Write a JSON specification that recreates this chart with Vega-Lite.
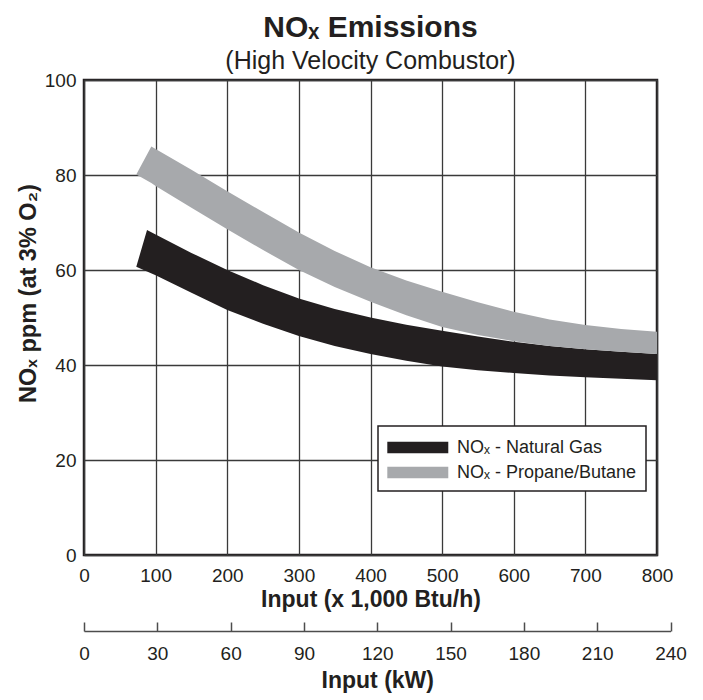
{
  "$schema": "https://vega.github.io/schema/vega-lite/v6.json",
  "width": 573,
  "height": 475,
  "autosize": {"type": "none"},
  "padding": {"left": 84, "top": 80, "right": 46, "bottom": 145},
  "background": "white",
  "title": {
    "text": "NOₓ Emissions",
    "subtitle": "(High Velocity Combustor)",
    "anchor": "middle",
    "fontSize": 30,
    "fontWeight": "bold",
    "font": "Liberation Sans",
    "subtitleFont": "Liberation Sans",
    "subtitleFontSize": 25,
    "color": "#231f20",
    "subtitleColor": "#231f20",
    "offset": -3,
    "subtitlePadding": 6
  },
  "datasets": {
    "bands": [
      {"fuel": "Natural Gas", "input": 73, "low": 60.7, "high": 60.7},
      {"fuel": "Natural Gas", "input": 88, "low": 59.7, "high": 68.4},
      {"fuel": "Natural Gas", "input": 100, "low": 58.9, "high": 67.5},
      {"fuel": "Natural Gas", "input": 150, "low": 55.2, "high": 63.6},
      {"fuel": "Natural Gas", "input": 200, "low": 51.6, "high": 60.0},
      {"fuel": "Natural Gas", "input": 250, "low": 48.7, "high": 56.8},
      {"fuel": "Natural Gas", "input": 300, "low": 46.1, "high": 54.0},
      {"fuel": "Natural Gas", "input": 350, "low": 44.0, "high": 51.8},
      {"fuel": "Natural Gas", "input": 400, "low": 42.3, "high": 50.0},
      {"fuel": "Natural Gas", "input": 450, "low": 40.9, "high": 48.5},
      {"fuel": "Natural Gas", "input": 500, "low": 39.7, "high": 47.2},
      {"fuel": "Natural Gas", "input": 550, "low": 38.9, "high": 46.0},
      {"fuel": "Natural Gas", "input": 600, "low": 38.3, "high": 44.9},
      {"fuel": "Natural Gas", "input": 650, "low": 37.8, "high": 44.0},
      {"fuel": "Natural Gas", "input": 700, "low": 37.4, "high": 43.3},
      {"fuel": "Natural Gas", "input": 750, "low": 37.1, "high": 42.8},
      {"fuel": "Natural Gas", "input": 800, "low": 36.8, "high": 42.3},
      {"fuel": "Propane/Butane", "input": 73, "low": 80.1, "high": 80.1},
      {"fuel": "Propane/Butane", "input": 94, "low": 78.3, "high": 86.0},
      {"fuel": "Propane/Butane", "input": 100, "low": 77.7, "high": 85.5},
      {"fuel": "Propane/Butane", "input": 150, "low": 73.1, "high": 81.1},
      {"fuel": "Propane/Butane", "input": 200, "low": 68.6, "high": 76.6},
      {"fuel": "Propane/Butane", "input": 250, "low": 64.2, "high": 72.2},
      {"fuel": "Propane/Butane", "input": 300, "low": 60.0, "high": 67.9},
      {"fuel": "Propane/Butane", "input": 350, "low": 56.4, "high": 64.0},
      {"fuel": "Propane/Butane", "input": 400, "low": 53.3, "high": 60.6},
      {"fuel": "Propane/Butane", "input": 450, "low": 50.5, "high": 57.8},
      {"fuel": "Propane/Butane", "input": 500, "low": 48.0, "high": 55.4},
      {"fuel": "Propane/Butane", "input": 550, "low": 46.3, "high": 53.2},
      {"fuel": "Propane/Butane", "input": 600, "low": 45.0, "high": 51.2},
      {"fuel": "Propane/Butane", "input": 650, "low": 44.0, "high": 49.6},
      {"fuel": "Propane/Butane", "input": 700, "low": 43.3, "high": 48.4},
      {"fuel": "Propane/Butane", "input": 750, "low": 42.8, "high": 47.6},
      {"fuel": "Propane/Butane", "input": 800, "low": 42.3, "high": 47.0}
    ],
    "kw": [
      {"kw": 0}, {"kw": 30}, {"kw": 60}, {"kw": 90}, {"kw": 120},
      {"kw": 150}, {"kw": 180}, {"kw": 210}, {"kw": 240}
    ]
  },
  "layer": [
    {
      "data": {"name": "bands"},
      "mark": {"type": "area", "interpolate": "linear", "opacity": 1},
      "encoding": {
        "x": {
          "field": "input",
          "type": "quantitative",
          "scale": {"domain": [0, 800], "nice": false, "zero": false},
          "axis": {
            "values": [0, 100, 200, 300, 400, 500, 600, 700, 800],
            "title": "Input (x 1,000 Btu/h)",
            "grid": true,
            "ticks": false,
            "domain": false,
            "labelPadding": 11,
            "labelFontSize": 19,
            "titleFontSize": 23,
            "titlePadding": 3,
            "labelFlush": false,
            "labelOverlap": false
          }
        },
        "y": {
          "field": "high",
          "type": "quantitative",
          "stack": null,
          "scale": {"domain": [0, 100], "nice": false},
          "axis": {
            "values": [0, 20, 40, 60, 80, 100],
            "title": "NOₓ ppm (at 3% O₂)",
            "grid": true,
            "ticks": false,
            "domain": false,
            "labelPadding": 8,
            "labelFontSize": 19,
            "titleFontSize": 23.5,
            "titleX": -56,
            "titleY": 213,
            "titleAngle": -90,
            "titleAlign": "center",
            "titleBaseline": "middle",
            "labelFlush": false,
            "labelOverlap": false
          }
        },
        "y2": {"field": "low"},
        "color": {
          "field": "fuel",
          "type": "nominal",
          "scale": {"domain": ["Natural Gas", "Propane/Butane"], "range": ["#231f20", "#a7a9ac"]},
          "legend": {
            "orient": "none",
            "legendX": 294,
            "legendY": 346,
            "title": null,
            "padding": 9,
            "strokeColor": "#231f20",
            "fillColor": "white",
            "symbolType": "M-1,-0.48H4V0.48H-1Z",
            "symbolSize": 595,
            "symbolStrokeWidth": 0,
            "symbolOpacity": 1,
            "labelFontSize": 18,
            "labelOffset": 45,
            "rowPadding": 3,
            "labelLimit": 300,
            "labelColor": "#231f20",
            "labelExpr": "'NOₓ - ' + datum.label",
            "encode": {"legend": {"update": {"strokeWidth": {"value": 1.5}}}}
          }
        }
      }
    },
    {
      "data": {"name": "kw"},
      "mark": {"type": "point", "opacity": 0},
      "encoding": {
        "x": {
          "field": "kw",
          "type": "quantitative",
          "scale": {"domain": [0, 240], "range": [0, 586.5], "nice": false, "zero": false},
          "axis": {
            "orient": "bottom",
            "offset": 76,
            "values": [0, 30, 60, 90, 120, 150, 180, 210, 240],
            "title": "Input (kW)",
            "grid": false,
            "domain": true,
            "domainColor": "#4d4d4d",
            "domainWidth": 1.5,
            "ticks": true,
            "tickSize": -9,
            "tickColor": "#4d4d4d",
            "tickWidth": 1.5,
            "labelPadding": 22,
            "labelFontSize": 19,
            "titleFontSize": 23,
            "titlePadding": 6,
            "labelFlush": false,
            "labelOverlap": false
          }
        }
      }
    }
  ],
  "resolve": {"scale": {"x": "independent"}, "axis": {"x": "independent"}},
  "config": {
    "font": "Liberation Sans",
    "view": {"stroke": "#231f20", "strokeWidth": 2.5},
    "axis": {
      "gridColor": "#3a3a3a",
      "gridWidth": 1.3,
      "gridOpacity": 1,
      "labelColor": "#231f20",
      "titleColor": "#231f20",
      "labelFont": "Liberation Sans",
      "titleFont": "Liberation Sans",
      "titleFontWeight": "bold"
    },
    "legend": {"labelFont": "Liberation Sans"}
  }
}
